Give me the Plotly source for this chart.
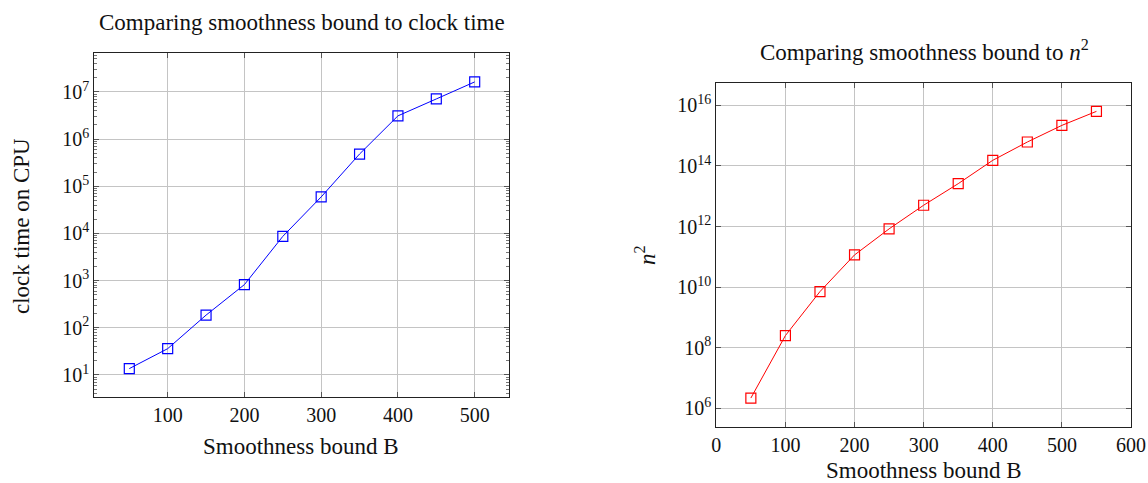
import plotly.graph_objects as go

# Left chart data
B_left = [50, 100, 150, 200, 250, 300, 350, 400, 450, 500]
clock_time = [13.6, 36, 185, 822, 8650, 59400, 482000, 3.11e6, 7.1e6, 1.63e7]

# Right chart data
B_right = [50, 100, 150, 200, 250, 300, 350, 400, 450, 500, 550]
n_squared = [2.2e6, 2.54e8, 7.17e9, 1.16e11, 8.4e11, 5.07e12, 2.61e13,
             1.54e14, 6.18e14, 2.19e15, 6.34e15]

left_yticks = [1e1, 1e2, 1e3, 1e4, 1e5, 1e6, 1e7]
left_ylabels = ["10<sup>%d</sup>" % e for e in range(1, 8)]
left_xticks = [100, 200, 300, 400, 500]

right_yticks = [1e6, 1e8, 1e10, 1e12, 1e14, 1e16]
right_ylabels = ["10<sup>%d</sup>" % e for e in (6, 8, 10, 12, 14, 16)]
right_xticks = [0, 100, 200, 300, 400, 500, 600]

W, H = 1148, 483
FONT = "Liberation Serif"
FS = 20
TS = 23

fig = go.Figure()
fig.add_trace(go.Scatter(
    x=B_left, y=clock_time, mode="lines+markers",
    line=dict(color="#0000ff", width=1),
    marker=dict(symbol="square-open", size=10, color="#0000ff", line=dict(width=1.2)),
    xaxis="x", yaxis="y", showlegend=False))
fig.add_trace(go.Scatter(
    x=B_right, y=n_squared, mode="lines+markers",
    line=dict(color="#ff0000", width=1),
    marker=dict(symbol="square-open", size=10, color="#ff0000", line=dict(width=1.2)),
    xaxis="x2", yaxis="y2", showlegend=False))

def px_x(a, b):
    return [a / W, b / W]

def px_y(top, bottom):
    return [1 - bottom / H, 1 - top / H]

grid = "#c4c4c4"
common = dict(showline=True, linecolor="#222", linewidth=1.2, mirror="allticks",
              ticks="inside", ticklen=5, tickcolor="#555", tickwidth=1,
              showgrid=True, gridcolor=grid, gridwidth=1, zeroline=False,
              automargin=False,
              tickfont=dict(family=FONT, size=FS, color="#111"))

fig.update_layout(
    width=W, height=H,
    margin=dict(l=0, r=0, t=0, b=0, pad=0, autoexpand=False),
    showlegend=False,
    paper_bgcolor="white", plot_bgcolor="white",
    xaxis=dict(domain=px_x(94.3, 509), range=[4.4, 544.7],
               tickmode="array", tickvals=left_xticks,
               ticktext=[str(v) for v in left_xticks], anchor="y", **common),
    yaxis=dict(domain=px_y(53.3, 397.3), type="log", range=[0.525, 7.819],
               tickmode="array", tickvals=left_yticks, ticktext=left_ylabels,
               anchor="x",
               minor=dict(ticks="inside", ticklen=3, tickcolor="#777", dtick="D1",
                          showgrid=False),
               **common),
    xaxis2=dict(domain=px_x(716.3, 1131), range=[0, 600],
                tickmode="array", tickvals=right_xticks,
                ticktext=[str(v) for v in right_xticks], anchor="y2", **common),
    yaxis2=dict(domain=px_y(82.7, 426.7), type="log", range=[5.397, 16.748],
                tickmode="array", tickvals=right_yticks, ticktext=right_ylabels,
                anchor="x2", **common),
)

def ann(text, x, y, angle=0, size=TS):
    fig.add_annotation(text=text, x=x / W, y=1 - y / H, xref="paper", yref="paper",
                       showarrow=False, textangle=angle,
                       font=dict(family=FONT, size=size, color="#111"),
                       xanchor="center", yanchor="middle")

ann("Comparing smoothness bound to clock time", 301.5, 22)
ann("Smoothness bound B", 301, 446)
ann("clock time on CPU", 22, 226, angle=-90)
ann("Comparing smoothness bound to <i>n</i><sup>2</sup>", 924, 51)
ann("Smoothness bound B", 923.5, 470)
ann("<i>n</i><sup>2</sup>", 645, 255, angle=-90)

fig.write_html("out.html", config={"displayModeBar": False},
               post_script="document.body.style.margin='0';document.body.style.padding='0';")
